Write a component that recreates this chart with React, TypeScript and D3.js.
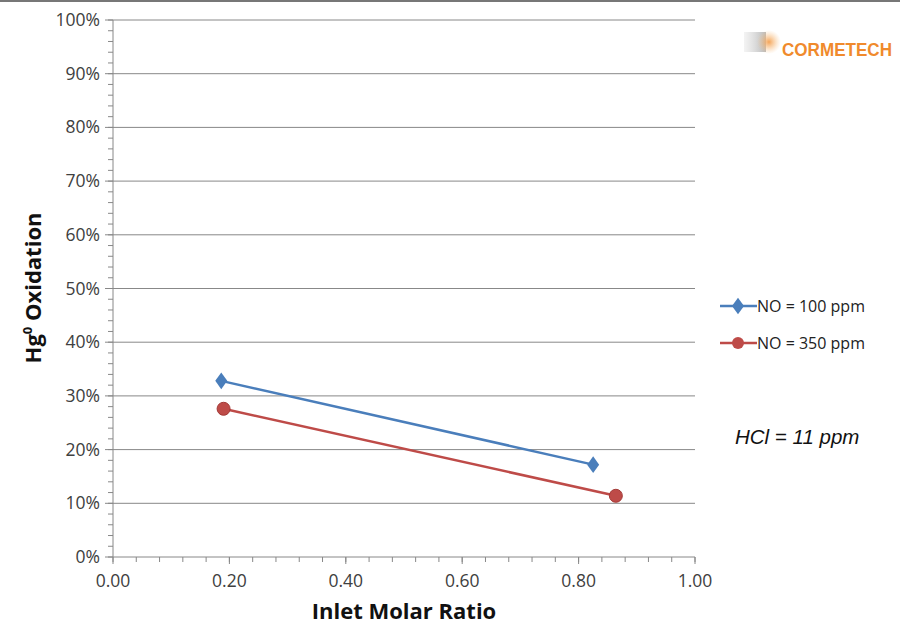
import React from "react";
import * as d3 from "d3";

const seriesNames = ["NO = 100 ppm", "NO = 350 ppm"];
const seriesColors = ["#4a7ebb", "#be4b48"];
const xValues100 = [0.186, 0.825];
const yValues100 = [0.328, 0.172];
const xValues350 = [0.19, 0.864];
const yValues350 = [0.276, 0.114];
const xTicks = [0, 0.2, 0.4, 0.6, 0.8, 1.0];
const yTicks = [0, 0.1, 0.2, 0.3, 0.4, 0.5, 0.6, 0.7, 0.8, 0.9, 1.0];

const W = 900, H = 624;
const left = 113, right = 695, top = 20, bottom = 557;
const font = "'Open Sans', Lato, sans-serif";

export default function App() {
  const x = d3.scaleLinear().domain([0, 1]).range([left, right]);
  const y = d3.scaleLinear().domain([0, 1]).range([bottom, top]);
  const line = d3.line<[number, number]>().x(d => x(d[0])).y(d => y(d[1]));
  const s100: [number, number][] = xValues100.map((v, i) => [v, yValues100[i]]);
  const s350: [number, number][] = xValues350.map((v, i) => [v, yValues350[i]]);
  const xMinor = d3.range(0, 1.0001, 0.04);
  const yMinor = d3.range(0, 1.0001, 0.02);
  const diamond = d3.symbol().type(d3.symbolDiamond).size(80)();
  return (
    <svg width={W} height={H} style={{ position: "absolute", left: 0, top: 0, background: "#fff" }}>
      <defs>
        <linearGradient id="lg" x1="0" x2="1" y1="0" y2="0">
          <stop offset="0" stopColor="#d8d8d8" stopOpacity={0.3} />
          <stop offset="1" stopColor="#b0b0b0" stopOpacity={0.9} />
        </linearGradient>
        <radialGradient id="og">
          <stop offset="0" stopColor="#f4a050" stopOpacity={0.95} />
          <stop offset="1" stopColor="#f8c890" stopOpacity={0} />
        </radialGradient>
      </defs>
      <line x1={0} x2={W} y1={1} y2={1} stroke="#777" strokeWidth={2} />
      {yTicks.map(t => (
        <line key={"g" + t} x1={left} x2={right} y1={y(t)} y2={y(t)} stroke="#888" strokeWidth={1} />
      ))}
      <line x1={left} x2={left} y1={top} y2={bottom} stroke="#888" />
      {yMinor.map((t, i) => (
        <line key={"ym" + i} x1={left - 5} x2={left} y1={y(t)} y2={y(t)} stroke="#888" />
      ))}
      {yTicks.map(t => (
        <line key={"yM" + t} x1={left - 8} x2={left} y1={y(t)} y2={y(t)} stroke="#888" />
      ))}
      {xMinor.map((t, i) => (
        <line key={"xm" + i} x1={x(t)} x2={x(t)} y1={bottom} y2={bottom + 5} stroke="#888" />
      ))}
      {xTicks.map(t => (
        <line key={"xM" + t} x1={x(t)} x2={x(t)} y1={bottom} y2={bottom + 7} stroke="#888" />
      ))}
      {yTicks.map(t => (
        <text key={"yl" + t} x={left - 13} y={y(t) + 6} textAnchor="end" fontFamily={font} fontSize={17.5} fill="#404040">
          {d3.format(".0%")(t)}
        </text>
      ))}
      {xTicks.map(t => (
        <text key={"xl" + t} x={x(t)} y={bottom + 30} textAnchor="middle" fontFamily={font} fontSize={17.5} fill="#404040">
          {d3.format(".2f")(t)}
        </text>
      ))}
      <text x={(left + right) / 2} y={619} textAnchor="middle" fontFamily={font} fontWeight="bold" fontSize={22} fill="#111">
        Inlet Molar Ratio
      </text>
      <text transform={`translate(41,${288}) rotate(-90)`} textAnchor="middle" fontFamily={font} fontWeight="bold" fontSize={22} fill="#111">
        Hg<tspan dy={-9} fontSize={13}>0</tspan><tspan dy={9}> Oxidation</tspan>
      </text>
      <path d={line(s100) || ""} fill="none" stroke={seriesColors[0]} strokeWidth={2.5} />
      <path d={line(s350) || ""} fill="none" stroke={seriesColors[1]} strokeWidth={2.5} />
      {s100.map((d, i) => (
        <path key={"d" + i} d={diamond || ""} transform={`translate(${x(d[0])},${y(d[1])}) scale(1.25,1)`} fill={seriesColors[0]} />
      ))}
      {s350.map((d, i) => (
        <circle key={"c" + i} cx={x(d[0])} cy={y(d[1])} r={6.5} fill={seriesColors[1]} stroke="#a33a37" strokeWidth={1} />
      ))}
      {seriesNames.map((n, i) => (
        <g key={n} transform={`translate(720,${306 + i * 37})`}>
          <line x1={0} x2={37} y1={0} y2={0} stroke={seriesColors[i]} strokeWidth={2.5} />
          {i === 0 ? (
            <path d={diamond || ""} transform="translate(18,0) scale(1.25,1)" fill={seriesColors[0]} />
          ) : (
            <circle cx={18} cy={0} r={6} fill={seriesColors[1]} />
          )}
          <text x={37} y={6} fontFamily={font} fontSize={16} fill="#222">{n}</text>
        </g>
      ))}
      <text x={735} y={444} fontFamily="'Liberation Sans', Arial, sans-serif" fontStyle="italic" fontSize={20.5} fill="#111">
        HCl = 11 ppm
      </text>
      <g>
        <rect x={744} y={32} width={22} height={20} fill="url(#lg)" />
        <circle cx={769} cy={42} r={12} fill="url(#og)" />
        <text x={782} y={56} fontFamily="'Liberation Sans', Arial, sans-serif" fontWeight="bold" fontSize={18.5} fill="#f08a2c" textLength={110} lengthAdjust="spacingAndGlyphs">
          CORMETECH
        </text>
      </g>
    </svg>
  );
}
